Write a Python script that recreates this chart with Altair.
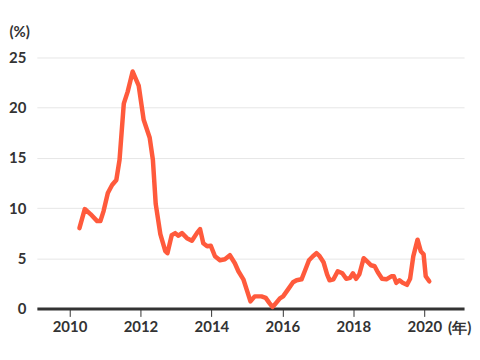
import altair as alt
import pandas as pd

years = [2010.28, 2010.43, 2010.59, 2010.78, 2010.87, 2010.96, 2011.08, 2011.20, 2011.32, 2011.41,
         2011.53, 2011.64, 2011.78, 2011.95, 2012.09, 2012.26, 2012.35, 2012.43, 2012.56, 2012.70,
         2012.76, 2012.88, 2012.98, 2013.07, 2013.17, 2013.31, 2013.45, 2013.59, 2013.68, 2013.77,
         2013.88, 2013.98, 2014.10, 2014.24, 2014.38, 2014.52, 2014.66, 2014.76, 2014.90, 2015.01,
         2015.10, 2015.22, 2015.41, 2015.53, 2015.63, 2015.72, 2015.79, 2015.93, 2016.02, 2016.16,
         2016.30, 2016.40, 2016.54, 2016.63, 2016.75, 2016.86, 2016.96, 2017.05, 2017.16, 2017.26,
         2017.33, 2017.44, 2017.56, 2017.69, 2017.80, 2017.91, 2017.99, 2018.08, 2018.17, 2018.29,
         2018.41, 2018.50, 2018.60, 2018.69, 2018.81, 2018.93, 2019.07, 2019.14, 2019.21, 2019.30,
         2019.39, 2019.51, 2019.60, 2019.69, 2019.81, 2019.90, 2019.98, 2020.04, 2020.14]
values = [8.0, 9.9, 9.4, 8.7, 8.7, 9.7, 11.5, 12.3, 12.8, 14.8,
          20.4, 21.6, 23.6, 22.2, 18.8, 17.0, 14.8, 10.4, 7.4, 5.7,
          5.5, 7.3, 7.5, 7.25, 7.5, 7.0, 6.75, 7.5, 7.9, 6.5,
          6.2, 6.25, 5.2, 4.8, 4.9, 5.3, 4.5, 3.7, 2.9, 1.7,
          0.7, 1.2, 1.2, 1.05, 0.55, 0.15, 0.4, 1.0, 1.2, 1.9,
          2.6, 2.8, 2.9, 3.7, 4.8, 5.2, 5.5, 5.2, 4.6, 3.4,
          2.8, 2.9, 3.7, 3.5, 2.95, 3.05, 3.5, 2.95, 3.4, 5.0,
          4.6, 4.3, 4.2, 3.6, 2.95, 2.9, 3.2, 3.2, 2.55, 2.8,
          2.55, 2.35, 2.95, 5.2, 6.85, 5.7, 5.4, 3.2, 2.7]

x_ticks = [2010, 2012, 2014, 2016, 2018, 2020]
y_ticks = [0, 5, 10, 15, 20, 25]
unit_x = "(年)"
unit_y = "(%)"

df = pd.DataFrame({"year": years, "value": values})
FONT = "Lato"
TXT = "#333333"
FS = 15

line = alt.Chart(df).mark_line(
    color="#ff5a3c", strokeWidth=4.5, strokeCap="round", strokeJoin="round"
).encode(
    x=alt.X("year:Q",
            scale=alt.Scale(domain=[2009.08, 2021.12], nice=False, zero=False),
            axis=alt.Axis(values=x_ticks, format="d", grid=False,
                          domainColor=TXT, domainWidth=3,
                          tickColor=TXT, tickSize=8, tickWidth=1,
                          labelFont=FONT, labelFontSize=FS, labelFontWeight="bold",
                          labelColor=TXT, labelPadding=3, title=None)),
    y=alt.Y("value:Q",
            scale=alt.Scale(domain=[0, 25], nice=False),
            axis=alt.Axis(values=y_ticks, grid=True, gridColor="#e6e6e6", gridWidth=1,
                          domain=False, ticks=False,
                          labelFont=FONT, labelFontSize=FS, labelFontWeight="bold",
                          labelColor=TXT, labelPadding=11,
                          title=unit_y, titleAngle=0, titleAlign="left",
                          titleBaseline="top", titleX=-28, titleY=-33,
                          titleFont=FONT, titleFontSize=FS, titleFontWeight="bold",
                          titleColor=TXT)),
)

unit = alt.Chart(pd.DataFrame({"t": [unit_x]})).mark_text(
    align="left", baseline="middle", font=FONT, fontSize=FS, fontWeight="bold", color=TXT
).encode(
    text="t:N",
    x=alt.value(413),
    y=alt.value(272),
)

chart = alt.layer(line, unit).properties(
    width=429, height=252,
    padding={"left": 0, "top": 16, "right": 0, "bottom": 0},
).configure_view(stroke=None)

chart.save("out.html", embed_options={"renderer": "svg", "actions": False})
